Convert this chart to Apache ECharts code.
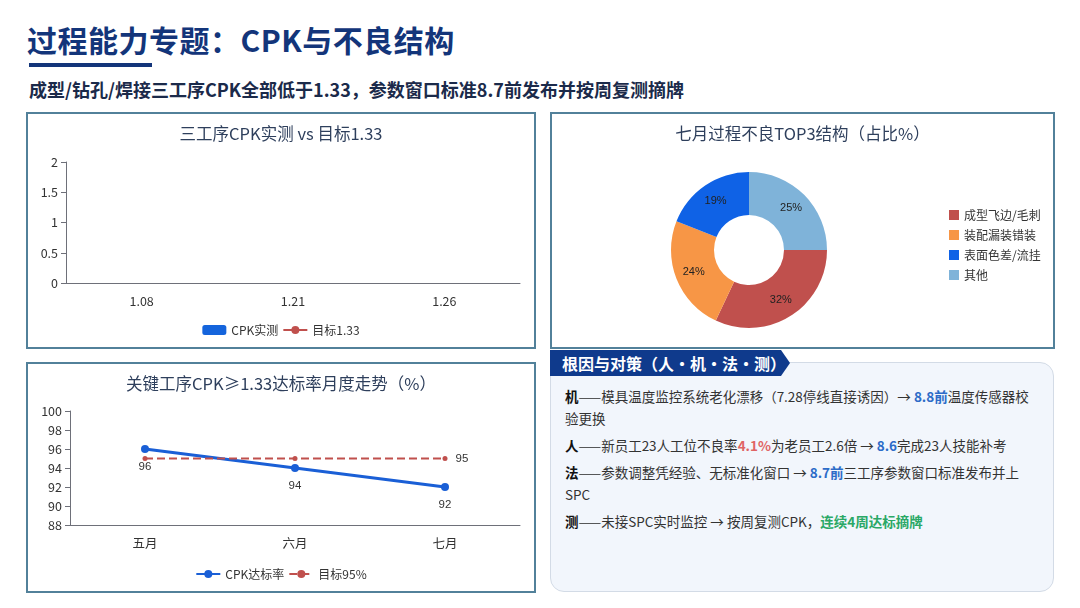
<!DOCTYPE html>
<html>
<head>
<meta charset="utf-8">
<script src="https://cdn.jsdelivr.net/npm/echarts@6/dist/echarts.min.js"></script>
<style>
  html, body { margin: 0; padding: 0; background: #fff; }
  body { width: 1080px; height: 608px; position: relative; overflow: hidden;
         font-family: "Noto Sans CJK SC", "Noto Sans", sans-serif; }
  .title { position: absolute; left: 27px; top: 17px; font-size: 30px; font-weight: 700;
           color: #13357a; line-height: 44px; letter-spacing: 0.5px; }
  .bar { position: absolute; left: 29px; top: 63px; width: 123px; height: 4px; background: #13357a; }
  .sub { position: absolute; left: 29px; top: 76px; font-size: 18px; font-weight: 700;
         color: #1b2a4a; line-height: 26px; }
  .panel { position: absolute; border: 2px solid #52819a; background: #fff; box-sizing: border-box; }
  .note { position: absolute; left: 550px; top: 362px; width: 504px; height: 230px;
          background: #f2f6fc; border: 1px solid #d3dbe6; border-radius: 14px; box-sizing: border-box;
          padding: 22px 12px 0 14px; font-size: 13.5px; color: #333; line-height: 22px; }
  .note p { margin: 0 0 5px 0; }
  .note b { color: #111; }
  .tab { position: absolute; left: 550px; top: 350px; height: 26px; width: 240px; background: #0f3a8c;
         color: #fff; font-size: 16px; font-weight: 700; line-height: 26px; padding-left: 12px; box-sizing: border-box;
         clip-path: polygon(0 0, 231px 0, 240px 13px, 231px 26px, 0 26px); }
  .blue { color: #2d6cc8; font-weight: 700; }
  .red { color: #e06464; font-weight: 700; }
  .green { color: #2aa866; font-weight: 700; }
</style>
</head>
<body>
<div class="title">过程能力专题：CPK与不良结构</div>
<div class="bar"></div>
<div class="sub">成型/钻孔/焊接三工序CPK全部低于1.33，参数窗口标准8.7前发布并按周复测摘牌</div>

<div class="panel" id="cpk" style="left:26px;top:112px;width:510px;height:237px;"></div>
<div class="panel" id="trend" style="left:26px;top:362px;width:510px;height:231px;"></div>
<div class="panel" id="pie" style="left:550px;top:112px;width:505px;height:237px;"></div>

<div class="note">
  <p><b>机</b>——模具温度监控系统老化漂移（7.28停线直接诱因）→ <span class="blue">8.8前</span>温度传感器校验更换</p>
  <p><b>人</b>——新员工23人工位不良率<span class="red">4.1%</span>为老员工2.6倍 → <span class="blue">8.6</span>完成23人技能补考</p>
  <p><b>法</b>——参数调整凭经验、无标准化窗口 → <span class="blue">8.7前</span>三工序参数窗口标准发布并上SPC</p>
  <p><b>测</b>——未接SPC实时监控 → 按周复测CPK，<span class="green">连续4周达标摘牌</span></p>
</div>
<div class="tab">根因与对策（人·机·法·测）</div>

<script>
// chart 1: the reference shows only the category labels, no bars or target line
const cpkCategories = ['1.08', '1.21', '1.26'];
const cpkMeasured = [];
const cpkTarget = [];

// chart 2: monthly pass rate
const months = ['五月', '六月', '七月'];
const passRate = [96, 94, 92];
const passTarget = [95, 95, 95];

// chart 3: defect structure
const defectNames = ['成型飞边/毛刺', '装配漏装错装', '表面色差/流挂', '其他'];
const defectShare = [32, 24, 19, 25];

const FONT = '"Noto Sans CJK SC", sans-serif';
const titleStyle = { fontSize: 16.5, fontWeight: 'normal', color: '#2e3f5c', fontFamily: FONT };
const axisLine = { show: true, lineStyle: { color: '#6e7079' } };
const axisLabel = { color: '#333', fontSize: 12.5, fontFamily: FONT };

var cpkChart = echarts.init(document.getElementById('cpk'));
cpkChart.setOption({
    title: { text: '三工序CPK实测 vs 目标1.33', left: 'center', top: 6, textStyle: titleStyle },
    legend: { bottom: 6, itemGap: 4, itemWidth: 24, itemHeight: 10, textStyle: { fontSize: 12, color: '#333', fontFamily: FONT } },
    grid: { left: 38, right: 14, top: 48, bottom: 64 },
    xAxis: { type: 'category', data: cpkCategories, axisLine: axisLine, axisLabel: Object.assign({ margin: 12 }, axisLabel) },
    yAxis: { type: 'value', min: 0, max: 2, interval: 0.5, axisLine: axisLine, axisTick: { show: true },
             splitLine: { show: false }, axisLabel: axisLabel },
    series: [
        { name: 'CPK实测', type: 'bar', data: cpkMeasured, itemStyle: { color: '#1464dc' } },
        { name: '目标1.33', type: 'line', data: cpkTarget, itemStyle: { color: '#c0504d' },
          lineStyle: { color: '#c0504d' }, symbol: 'circle', symbolSize: 6 }
    ]
});

var trendChart = echarts.init(document.getElementById('trend'));
trendChart.setOption({
    title: { text: '关键工序CPK≥1.33达标率月度走势（%）', left: 'center', top: 6, textStyle: titleStyle },
    legend: { bottom: 6, itemGap: 4, itemWidth: 24, itemHeight: 10, textStyle: { fontSize: 12, color: '#333', fontFamily: FONT } },
    grid: { left: 42, right: 14, top: 47, bottom: 66 },
    xAxis: { type: 'category', data: months, axisLine: axisLine, axisLabel: Object.assign({ margin: 12 }, axisLabel) },
    yAxis: { type: 'value', min: 88, max: 100, interval: 2, axisLine: axisLine, axisTick: { show: true },
             splitLine: { show: false }, axisLabel: axisLabel },
    series: [
        { name: 'CPK达标率', type: 'line', data: passRate, symbol: 'circle', symbolSize: 8,
          itemStyle: { color: '#1a5fd6' }, lineStyle: { width: 3, color: '#1a5fd6' },
          label: { show: true, position: 'bottom', distance: 8, color: '#333', fontSize: 11.5 } },
        { name: '目标95%', type: 'line', data: passTarget, symbol: 'circle', symbolSize: 5,
          itemStyle: { color: '#c0504d' }, lineStyle: { width: 2, type: 'dashed', color: '#c0504d' },
          label: { show: true, position: 'right', distance: 8, color: '#333', fontSize: 11.5,
                   formatter: p => p.dataIndex === passTarget.length - 1 ? p.value : '' } }
    ]
});

var pieChart = echarts.init(document.getElementById('pie'));
pieChart.setOption({
    title: { text: '七月过程不良TOP3结构（占比%）', left: 'center', top: 6, textStyle: titleStyle },
    color: ['#c0504d', '#f79646', '#0f62e6', '#7fb3d9'],
    legend: { orient: 'vertical', left: 392, top: 90, itemGap: 8, itemWidth: 10, itemHeight: 10, icon: 'rect',
              textStyle: { fontSize: 12, color: '#333', fontFamily: FONT } },
    series: [{
        type: 'pie', center: [197, 136], radius: [35, 78], startAngle: 0,
        data: defectNames.map((n, i) => ({ name: n, value: defectShare[i] })),
        label: { show: true, position: 'inside', formatter: '{c}%', color: '#222', fontSize: 11 },
        labelLine: { show: false }
    }]
});
</script>
</body>
</html>
